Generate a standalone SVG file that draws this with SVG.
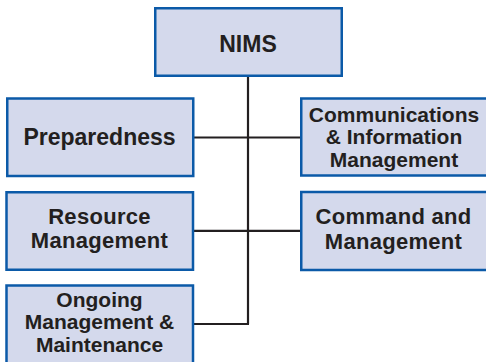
<svg xmlns="http://www.w3.org/2000/svg" width="486" height="362" viewBox="0 0 486 362">
<style>
.box{fill:#d4d9ec;stroke:#0b5aa8;stroke-width:2.5}
.t{font-family:"Liberation Sans",Arial,Helvetica,sans-serif;font-weight:bold;fill:#231f20;text-anchor:middle}
.l{font-size:23px}
.m{font-size:22px;letter-spacing:0.3px}
.s{font-size:21px}
.c{stroke:#231f20;stroke-width:2.2;fill:none}
</style>
<rect width="486" height="362" fill="#ffffff"/>
<g id="connectors">
<path class="c" d="M248 77V324"/>
<path class="c" d="M194 137.5H300"/>
<path class="c" d="M194 230.8H300"/>
<path class="c" d="M194 324H249"/>
</g>
<g id="nims">
<rect class="box" x="155.25" y="8.25" width="186.5" height="67.5"/>
<text class="t l" x="248" y="51.5">NIMS</text>
</g>
<g id="preparedness">
<rect class="box" x="7.25" y="98.5" width="186" height="77.5"/>
<text class="t l" x="99.5" y="145.3">Preparedness</text>
</g>
<g id="communications">
<rect class="box" x="301.25" y="98.5" width="195" height="77"/>
<text class="t s" x="394" y="121.7">Communications</text>
<text class="t s" x="394" y="144.3">&amp; Information</text>
<text class="t s" x="394" y="166.7">Management</text>
</g>
<g id="resource">
<rect class="box" x="6.5" y="192.25" width="186.5" height="77.5"/>
<text class="t m" x="99.5" y="223.5">Resource</text>
<text class="t m" x="99.5" y="248.2">Management</text>
</g>
<g id="command">
<rect class="box" x="301.25" y="192" width="195" height="78"/>
<text class="t m" x="393.5" y="224">Command and</text>
<text class="t m" x="393.5" y="249">Management</text>
</g>
<g id="ongoing">
<rect class="box" x="6.5" y="285.5" width="186.5" height="100"/>
<text class="t s" x="99.5" y="306.7">Ongoing</text>
<text class="t s" x="99.5" y="328.8">Management &amp;</text>
<text class="t s" x="99.5" y="351.7">Maintenance</text>
</g>
</svg>
